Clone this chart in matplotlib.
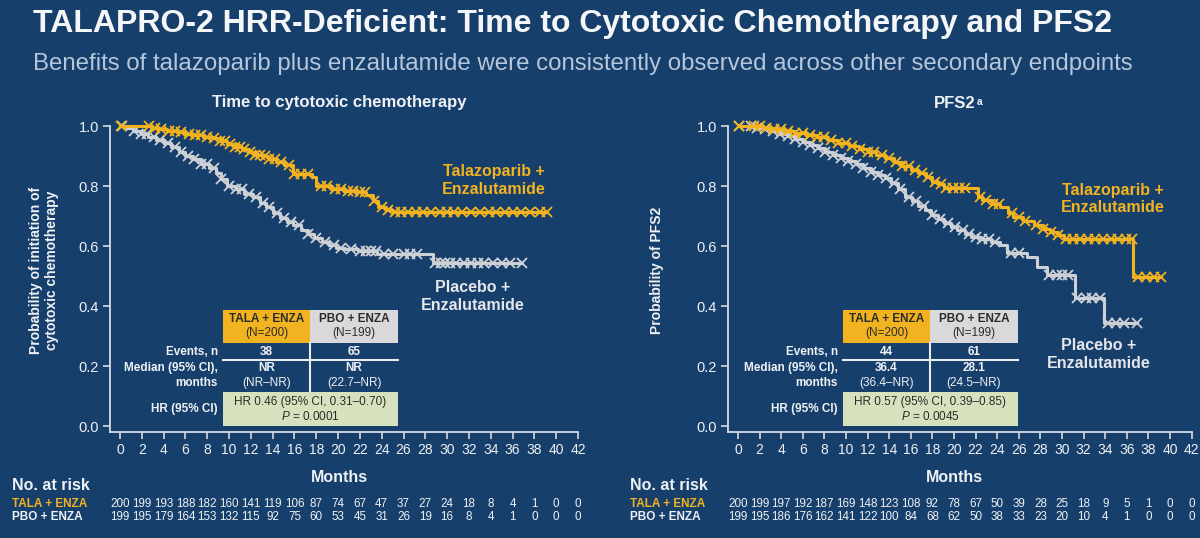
import numpy as np
import matplotlib
matplotlib.use("Agg")
import matplotlib.pyplot as plt
import matplotlib.transforms as mtransforms
from matplotlib.patches import Rectangle
from matplotlib.lines import Line2D

plt.rcParams['font.family'] = ['Liberation Sans', 'DejaVu Sans']
plt.rcParams['mathtext.fontset'] = 'custom'
plt.rcParams['mathtext.rm'] = 'Liberation Sans'
plt.rcParams['mathtext.it'] = 'Liberation Sans:italic'
plt.rcParams['mathtext.bf'] = 'Liberation Sans:bold'

# ---------------- data ----------------
month_ticks = np.arange(0, 43, 2)

# Time to cytotoxic chemotherapy
chemo_tala_t = [0, 2.8, 3.6, 4.3, 5.2, 6.0, 6.7, 7.6, 8.5, 9.2, 9.8, 10.5, 11.2, 11.8, 12.4,
                13.0, 13.6, 14.3, 15.0, 15.9, 17.6, 18.0, 19.4, 20.5, 21.6, 22.6, 23.2, 23.7,
                24.4, 25.0]
chemo_tala_s = [1.0, 0.995, 0.99, 0.985, 0.98, 0.975, 0.97, 0.965, 0.96, 0.95, 0.94, 0.93,
                0.925, 0.915, 0.905, 0.90, 0.89, 0.88, 0.87, 0.84, 0.83, 0.80, 0.79, 0.785,
                0.78, 0.77, 0.75, 0.73, 0.72, 0.713]
chemo_tala_end = 39.2
chemo_tala_cens = [0.1, 2.7, 3.2, 3.8, 4.5, 5.0, 5.6, 6.3, 6.9, 7.4, 8.0, 8.6, 9.2, 9.6, 10.1,
                   10.5, 11.0, 11.4, 11.9, 12.4, 12.8, 13.3, 13.7, 14.2, 14.8, 15.5, 16.0, 16.6,
                   17.2, 18.4, 19.0, 19.7, 20.3, 20.9, 21.4, 22.0, 22.5, 23.3, 24.0, 24.6, 25.2,
                   25.8, 26.4, 27.1, 27.8, 28.5, 29.3, 30.0, 30.6, 31.4, 32.2, 33.0, 33.8, 34.5,
                   35.3, 36.0, 36.8, 37.6, 38.5, 39.2]

chemo_pbo_t = [0, 0.6, 1.2, 1.9, 2.6, 3.3, 4.0, 4.7, 5.4, 6.0, 6.7, 7.4, 8.2, 8.8, 9.3, 9.8,
               10.6, 11.4, 12.2, 12.8, 13.4, 14.0, 14.7, 15.3, 15.9, 16.6, 17.2, 17.8, 18.5,
               19.2, 19.8, 20.6, 21.8, 23.6, 28.7]
chemo_pbo_s = [1.0, 0.995, 0.985, 0.975, 0.965, 0.955, 0.945, 0.93, 0.915, 0.90, 0.89, 0.875,
               0.86, 0.845, 0.825, 0.80, 0.79, 0.775, 0.763, 0.745, 0.73, 0.71, 0.695, 0.68,
               0.67, 0.655, 0.64, 0.628, 0.615, 0.603, 0.595, 0.59, 0.583, 0.572, 0.545]
chemo_pbo_end = 36.9
chemo_pbo_cens = [0.2, 1.3, 1.9, 2.5, 3.1, 3.7, 4.4, 5.0, 5.6, 6.2, 6.8, 7.4, 8.0, 8.6, 9.3,
                  10.0, 10.6, 11.2, 11.8, 12.5, 13.1, 13.7, 14.4, 15.0, 15.7, 16.4, 17.2, 18.0,
                  18.8, 19.6, 20.3, 21.2, 22.0, 22.6, 23.0, 23.5, 24.2, 25.0, 26.0, 26.6, 27.2,
                  28.9, 29.4, 29.8, 30.3, 30.8, 31.5, 32.2, 32.8, 33.4, 34.2, 35.0, 35.8, 36.9]

# PFS2
pfs2_tala_t = [0, 2.3, 3.3, 4.3, 5.3, 6.3, 7.3, 8.3, 9.3, 10.3, 11.2, 12.0, 12.8, 13.6, 14.4,
               15.2, 16.0, 16.7, 17.4, 18.0, 18.6, 19.1, 22.2, 22.6, 23.5, 24.3, 25.0, 25.5,
               26.4, 27.4, 28.2, 28.9, 29.6, 30.2, 36.6]
pfs2_tala_s = [1.0, 0.995, 0.99, 0.985, 0.977, 0.97, 0.962, 0.952, 0.943, 0.933, 0.923, 0.913,
               0.905, 0.895, 0.88, 0.867, 0.855, 0.845, 0.83, 0.815, 0.805, 0.793, 0.765,
               0.753, 0.74, 0.73, 0.71, 0.697, 0.683, 0.67, 0.658, 0.647, 0.637, 0.625, 0.497]
pfs2_tala_end = 39.2
pfs2_tala_cens = [0.1, 1.5, 2.0, 2.6, 3.3, 4.0, 4.6, 5.3, 6.0, 6.7, 7.3, 8.0, 8.6, 9.3, 10.0,
                  10.6, 11.3, 12.0, 12.6, 13.3, 14.0, 14.6, 15.2, 15.8, 16.4, 17.0, 17.6, 18.2,
                  18.8, 19.3, 19.9, 20.5, 21.0, 22.4, 23.0, 23.6, 24.2, 25.4, 26.0, 26.6, 27.6,
                  28.2, 29.0, 29.6, 30.4, 31.0, 31.7, 32.4, 33.1, 33.8, 34.5, 35.2, 35.9, 36.5,
                  37.0, 37.8, 38.5, 39.2]

pfs2_pbo_t = [0, 1.5, 2.4, 3.2, 3.9, 4.6, 5.3, 6.0, 6.7, 7.4, 8.1, 8.8, 9.5, 10.2, 10.9, 11.6,
              12.3, 13.0, 13.6, 14.2, 14.8, 15.5, 16.1, 16.7, 17.3, 17.9, 18.5, 19.1, 19.7,
              20.3, 21.0, 21.6, 22.5, 23.4, 24.3, 24.9, 26.8, 27.7, 28.6, 31.2, 33.9]
pfs2_pbo_s = [1.0, 0.995, 0.99, 0.982, 0.975, 0.968, 0.958, 0.948, 0.937, 0.927, 0.915, 0.905,
              0.893, 0.882, 0.872, 0.86, 0.848, 0.837, 0.827, 0.81, 0.79, 0.765, 0.75, 0.735,
              0.72, 0.705, 0.69, 0.677, 0.663, 0.652, 0.64, 0.63, 0.622, 0.615, 0.605, 0.577,
              0.563, 0.53, 0.503, 0.427, 0.343]
pfs2_pbo_end = 36.9
pfs2_pbo_cens = [0.1, 1.2, 1.8, 2.5, 3.2, 3.9, 4.6, 5.3, 6.0, 6.7, 7.4, 8.1, 8.8, 9.5, 10.2,
                 10.9, 11.6, 12.3, 13.0, 13.7, 14.4, 15.0, 15.8, 16.5, 17.2, 18.0, 18.7, 19.4,
                 20.1, 20.8, 21.4, 22.0, 22.6, 23.2, 23.8, 25.3, 26.0, 28.8, 29.5, 30.0, 30.6,
                 31.4, 32.2, 32.8, 33.5, 34.3, 35.0, 35.7, 36.9]

# numbers at risk (months 0, 2, ..., 42)
risk_chemo_tala = [200, 199, 193, 188, 182, 160, 141, 119, 106, 87, 74, 67, 47, 37, 27, 24, 18, 8, 4, 1, 0, 0]
risk_chemo_pbo = [199, 195, 179, 164, 153, 132, 115, 92, 75, 60, 53, 45, 31, 26, 19, 16, 8, 4, 1, 0, 0, 0]
risk_pfs2_tala = [200, 199, 197, 192, 187, 169, 148, 123, 108, 92, 78, 67, 50, 39, 28, 25, 18, 9, 5, 1, 0, 0]
risk_pfs2_pbo = [199, 195, 186, 176, 162, 141, 122, 100, 84, 68, 62, 50, 38, 33, 23, 20, 10, 4, 1, 0, 0, 0]

# summary tables
chemo_events = ["38", "65"]
chemo_median = [("NR", "(NR\u2013NR)"), ("NR", "(22.7\u2013NR)")]
chemo_hr = "HR 0.46 (95% CI, 0.31\u20130.70)"
chemo_p = "0.0001"
pfs2_events = ["44", "61"]
pfs2_median = [("36.4", "(36.4\u2013NR)"), ("28.1", "(24.5\u2013NR)")]
pfs2_hr = "HR 0.57 (95% CI, 0.39\u20130.85)"
pfs2_p = "0.0045"

# ---------------- styling ----------------
W, H = 1200, 538
BG = "#173f6b"
GOLD = "#f2b320"
GREY = "#cdd1d6"
TXT = "#eef1f5"
AXC = "#d5dbe3"
HDR_GREY = "#d9d9d9"
HR_GREEN = "#d6e2bd"
DARK = "#2b2b2b"


def fx(x):
    return x / W


def fy(y):
    return 1 - y / H


fig = plt.figure(figsize=(W / 100, H / 100), dpi=100, facecolor=BG)

fig.text(fx(33), fy(24), "TALAPRO-2 HRR-Deficient: Time to Cytotoxic Chemotherapy and PFS2",
         fontsize=23, fontweight='bold', color="#f4f6f8", ha='left', va='center')
fig.text(fx(33), fy(64), "Benefits of talazoparib plus enzalutamide were consistently observed "
         "across other secondary endpoints", fontsize=17.3, color="#b6c6da", ha='left', va='center')


def km(ax, t, s, end, cens, color):
    t = np.append(np.array(t, float), end)
    s = np.append(np.array(s, float), s[-1])
    ax.step(t, s, where='post', color=color, lw=2.2, clip_on=False, zorder=3)
    idx = np.searchsorted(t, cens, side='right') - 1
    ax.plot(cens, s[idx], ls='none', marker='x', ms=7, mew=1.3, color=color,
            clip_on=False, zorder=3)


def add_box(x0, y0, x1, y1, color):
    fig.add_artist(Rectangle((fx(x0), fy(y1)), fx(x1) - fx(x0), fy(y0) - fy(y1),
                             transform=fig.transFigure, facecolor=color, edgecolor='none'))


def add_line(x0, y0, x1, y1):
    fig.add_artist(Line2D([fx(x0), fx(x1)], [fy(y0), fy(y1)], transform=fig.transFigure,
                          color="#e8ecf1", lw=1.5))


panels = [
    dict(x0=120, ppm=10.905, title="Time to cytotoxic chemotherapy",
         ylabel="Probability of initiation of\ncytotoxic chemotherapy", ylab_x=44,
         curves=[(chemo_pbo_t, chemo_pbo_s, chemo_pbo_end, chemo_pbo_cens, GREY),
                 (chemo_tala_t, chemo_tala_s, chemo_tala_end, chemo_tala_cens, GOLD)],
         risk=(risk_chemo_tala, risk_chemo_pbo),
         events=chemo_events, median=chemo_median, hr=chemo_hr, p=chemo_p,
         tab_x=223, tala_lab=(494, 181), pbo_lab=(473, 296)),
    dict(x0=738, ppm=10.8, title="PFS2",
         ylabel="Probability of PFS2", ylab_x=657,
         curves=[(pfs2_pbo_t, pfs2_pbo_s, pfs2_pbo_end, pfs2_pbo_cens, GREY),
                 (pfs2_tala_t, pfs2_tala_s, pfs2_tala_end, pfs2_tala_cens, GOLD)],
         risk=(risk_pfs2_tala, risk_pfs2_pbo),
         events=pfs2_events, median=pfs2_median, hr=pfs2_hr, p=pfs2_p,
         tab_x=843, tala_lab=(1113, 199), pbo_lab=(1099, 355)),
]

for pn in panels:
    x0 = pn['x0']
    ppm = pn['ppm']
    left_px = x0 - 10
    right_px = x0 + 42 * ppm
    ax = fig.add_axes([fx(left_px), fy(432), fx(right_px) - fx(left_px), fy(126) - fy(432)])
    ax.set_facecolor('none')
    ax.set_xlim(-10 / ppm, 42)
    ax.set_ylim(-0.02, 1.0)
    for sp in ('top', 'right'):
        ax.spines[sp].set_visible(False)
    for sp in ('left', 'bottom'):
        ax.spines[sp].set_color(AXC)
        ax.spines[sp].set_linewidth(1.3)
    ax.set_xticks(month_ticks)
    ax.set_yticks(np.arange(0, 1.01, 0.2))
    ax.set_yticklabels(["%.1f" % v for v in np.arange(0, 1.01, 0.2)])
    ax.tick_params(axis='both', colors=AXC, labelcolor=TXT, width=1.2, length=5, direction='out')
    ax.tick_params(axis='x', labelsize=10, pad=3)
    ax.tick_params(axis='y', labelsize=10.5, pad=3)

    for c in pn['curves']:
        km(ax, *c)

    cx = x0 + 21 * ppm - 10
    t = fig.text(fx(cx), fy(103), pn['title'], fontsize=12, fontweight='bold', color=TXT,
                 ha='center', va='center')
    if pn['title'] == "PFS2":
        ax.annotate("a", xy=(1, 1), xycoords=t, xytext=(0.5, -1), textcoords='offset points',
                    fontsize=7.5, fontweight='bold', color=TXT, ha='left', va='top')
    fig.text(fx(pn['ylab_x']), fy(270), pn['ylabel'], rotation=90, fontsize=10,
             fontweight='bold', color=TXT, ha='center', va='center', linespacing=1.25)

    fig.text(fx(pn['tala_lab'][0]), fy(pn['tala_lab'][1]), "Talazoparib +\nEnzalutamide",
             fontsize=11.5, fontweight='bold', color=GOLD, ha='center', va='center',
             linespacing=1.25)
    fig.text(fx(pn['pbo_lab'][0]), fy(pn['pbo_lab'][1]), "Placebo +\nEnzalutamide",
             fontsize=11.5, fontweight='bold', color="#e4e6e9", ha='center', va='center',
             linespacing=1.25)

    # summary table
    tx = pn['tab_x']
    c1, c2, c3 = tx, tx + 87, tx + 175
    add_box(c1, 310, c2, 343, GOLD)
    add_box(c2, 310, c3, 343, HDR_GREY)
    fig.text(fx((c1 + c2) / 2), fy(319), "TALA + ENZA", fontsize=8.5, fontweight='bold',
             color=DARK, ha='center', va='center')
    fig.text(fx((c1 + c2) / 2), fy(333), "(N=200)", fontsize=8.5, color=DARK,
             ha='center', va='center')
    fig.text(fx((c2 + c3) / 2), fy(319), "PBO + ENZA", fontsize=8.5, fontweight='bold',
             color=DARK, ha='center', va='center')
    fig.text(fx((c2 + c3) / 2), fy(333), "(N=199)", fontsize=8.5, color=DARK,
             ha='center', va='center')
    add_line(c1, 360, c3, 360)
    add_line(c2, 343, c2, 391)
    for i, (a, b) in enumerate([(c1, c2), (c2, c3)]):
        fig.text(fx((a + b) / 2), fy(352), pn['events'][i], fontsize=8.5, fontweight='bold',
                 color=TXT, ha='center', va='center')
        fig.text(fx((a + b) / 2), fy(368), pn['median'][i][0], fontsize=8.5, fontweight='bold',
                 color=TXT, ha='center', va='center')
        fig.text(fx((a + b) / 2), fy(383), pn['median'][i][1], fontsize=8.5,
                 color=TXT, ha='center', va='center')
    add_box(c1, 392, c3, 426, HR_GREEN)
    fig.text(fx((c1 + c3) / 2), fy(402), pn['hr'], fontsize=8.5, color=DARK,
             ha='center', va='center')
    fig.text(fx((c1 + c3) / 2), fy(416), "$P$ = " + pn['p'], fontsize=8.5, color=DARK,
             ha='center', va='center')
    lx = tx - 5
    for txt, yy in [("Events, n", 352), ("Median (95% CI),", 368), ("months", 383),
                    ("HR (95% CI)", 409)]:
        fig.text(fx(lx), fy(yy), txt, fontsize=8.5, fontweight='bold', color=TXT,
                 ha='right', va='center')

    # numbers at risk
    trans = mtransforms.blended_transform_factory(ax.transData, fig.transFigure)
    lab_x = x0 - 108
    fig.text(fx(lab_x), fy(485), "No. at risk", fontsize=11.5, fontweight='bold', color=TXT,
             ha='left', va='center')
    fig.text(fx(cx), fy(478), "Months", fontsize=11.5, fontweight='bold', color=TXT,
             ha='center', va='center')
    fig.text(fx(lab_x), fy(504), "TALA + ENZA", fontsize=8.5, fontweight='bold', color=GOLD,
             ha='left', va='center')
    fig.text(fx(lab_x), fy(517), "PBO + ENZA", fontsize=8.5, fontweight='bold', color=TXT,
             ha='left', va='center')
    for m, n1, n2 in zip(month_ticks, pn['risk'][0], pn['risk'][1]):
        ax.text(m, fy(504), str(n1), transform=trans, fontsize=8.4, color=TXT,
                ha='center', va='center')
        ax.text(m, fy(517), str(n2), transform=trans, fontsize=8.4, color=TXT,
                ha='center', va='center')

fig.savefig("out.png", dpi=100, facecolor=BG)
